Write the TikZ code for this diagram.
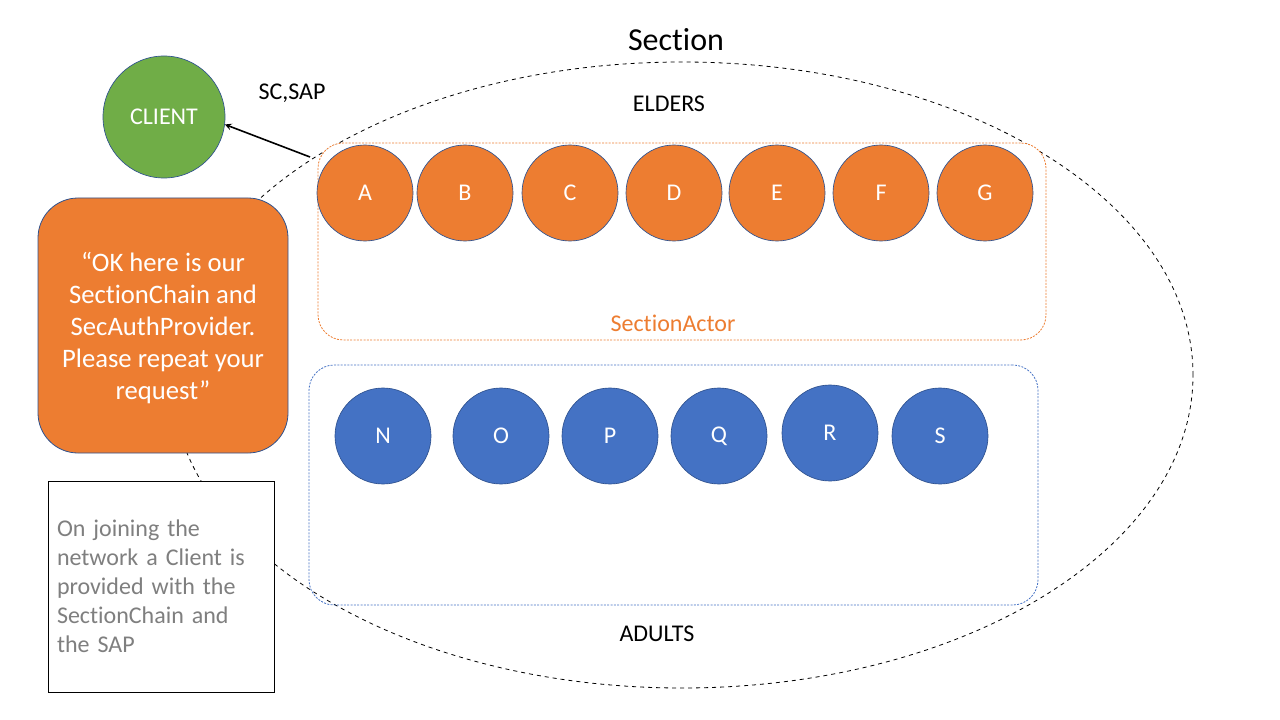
\documentclass[tikz,border=0pt]{standalone}
\usepackage{fontspec}
\setmainfont{Carlito}[Ligatures=NoCommon]
\usetikzlibrary{shapes.geometric}
\usetikzlibrary{positioning}
\usetikzlibrary{arrows}
\definecolor{secorange}{HTML}{ED7D31}
\definecolor{secblue}{HTML}{4472C4}
\definecolor{secgreen}{HTML}{70AD47}
\definecolor{secedge}{HTML}{2F528F}
\definecolor{notegray}{HTML}{7F7F7F}
\tikzset{
        member/.style={
          circle, draw=secedge, line width=0.5pt,
          minimum size=72pt, inner sep=0pt,
          text=white, font=\fontsize{18}{22}\selectfont
          },
        elder/.style={member, fill=secorange},
        adult/.style={member, fill=secblue},
        groupbox/.style={
          rectangle, rounded corners=19pt, line width=0.6pt,
          dash pattern=on 1.5pt off 1pt, inner sep=0pt
          },
        label18/.style={font=\fontsize{18}{22}\selectfont, inner sep=0pt},
}

\begin{document}
\begin{tikzpicture}[x=0.75pt, y=-0.75pt]
      % \draw[help lines, dashed] grid (1280, 720);
      \useasboundingbox (0,0) rectangle (1280,720);
      % SECTION
      \node[ellipse, draw, dashed, line width=0.6pt, inner sep=0pt,
            minimum width=766.5pt, minimum height=469.5pt] (section) at (682,375) {};
      \node[font=\fontsize{24}{29}\selectfont, inner sep=0pt] (sectitle) at (676,40) {Section};

      % ELDERS
      \node[label18] (elderstxt) at (669,104) {ELDERS};
      \node[groupbox, draw=secorange, fill=white, minimum width=546pt, minimum height=147.75pt] (actor) at (682,241.5) {};
      \node[label18, text=secorange] (actortxt) at (673,323) {SectionActor};
      \node[elder] (A) at (365,193) {A};
      \node[elder] (B) at (465,193) {B};
      \node[elder] (C) at (570,193) {C};
      \node[elder] (D) at (674,193) {D};
      \node[elder] (E) at (777,193) {E};
      \node[elder] (F) at (881,193) {F};
      \node[elder] (G) at (985,193) {G};

      % ADULTS
      \node[groupbox, draw=secblue, minimum width=546.75pt, minimum height=180pt] (adults) at (673.5,485) {};
      \node[adult] (N) at (383,436) {N};
      \node[adult] (O) at (501,436) {O};
      \node[adult] (P) at (610,436) {P};
      \node[adult] (Q) at (719,436) {Q};
      \node[adult] (R) at (830,433) {R};
      \node[adult] (S) at (940,436) {S};
      \node[label18] (adultstxt) at (657,634) {ADULTS};

      % CLIENT
      \node[circle, draw=secedge, fill=secgreen, line width=0.5pt, minimum size=91.5pt, inner sep=0pt,
            text=white, font=\fontsize{18}{22}\selectfont] (client) at (164,117) {CLIENT};
      \node[label18] (saptxt) at (292,93) {SC,SAP};
      \coordinate (sap) at (310,157);
      \draw[->, >=stealth, line width=1.2pt] (sap) -- (client.-7);

      % reply to the client
      \node[rectangle, rounded corners=30pt, draw=secedge, fill=secorange, line width=0.6pt,
            minimum width=187.5pt, minimum height=191.25pt, inner sep=0pt] (reply) at (163,325.5) {};
      \node[align=center, inner sep=0pt, text=white, font=\fontsize{20}{24}\selectfont,
            yshift=-2.25pt] (replytxt) at (reply.center)
            {“OK here is our\\SectionChain and\\SecAuthProvider.\\Please repeat your\\request”};

      % note
      \node[rectangle, draw, fill=white, line width=0.6pt, minimum width=169.5pt, minimum height=158.25pt,
            inner xsep=6.75pt, inner ysep=0pt, text width=156pt, align=left,
            text=notegray, font=\fontsize{18}{21.75}\selectfont] (note) at (161,586.5)
            {On joining the\\network a Client is\\provided with the\\SectionChain and\\the SAP};
\end{tikzpicture}
\end{document}
